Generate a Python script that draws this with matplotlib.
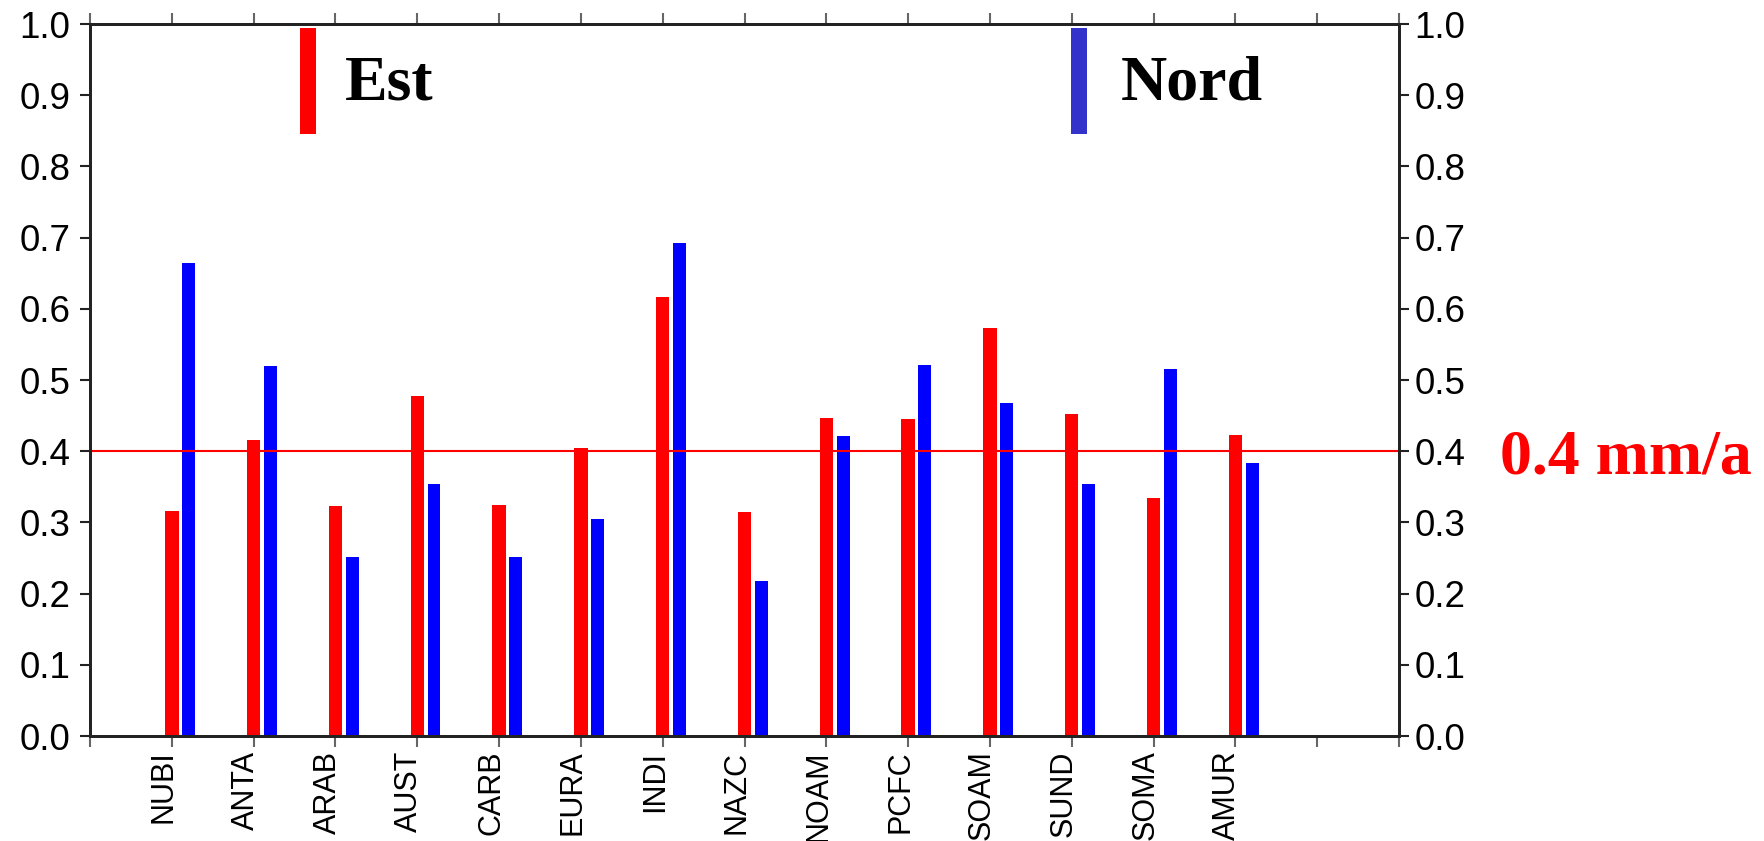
import matplotlib
matplotlib.use("Agg")
import matplotlib.pyplot as plt
from matplotlib.patches import Rectangle
import numpy as np

# Valeurs (mm/a)
plates = ["NUBI", "ANTA", "ARAB", "AUST", "CARB", "EURA", "INDI",
          "NAZC", "NOAM", "PCFC", "SOAM", "SUND", "SOMA", "AMUR"]
est = [0.316, 0.416, 0.323, 0.478, 0.325, 0.404, 0.616,
       0.315, 0.447, 0.445, 0.573, 0.452, 0.334, 0.423]
nord = [0.665, 0.519, 0.252, 0.354, 0.252, 0.305, 0.692,
        0.218, 0.421, 0.521, 0.468, 0.354, 0.516, 0.384]
seuil = 0.4
yticks = np.round(np.arange(0, 1.01, 0.1), 1)

plt.rcParams["font.family"] = ["Liberation Sans", "DejaVu Sans"]
LINE = "#222222"

fig = plt.figure(figsize=(17.65, 8.41), dpi=100)
ax = fig.add_axes([90 / 1765, 105 / 841, 1309 / 1765, 712 / 841])

x = np.arange(1, len(plates) + 1)
ax.bar(x, est, width=0.165, color="#ff0000", linewidth=0)
ax.bar(x + 0.205, nord, width=0.157, color="#0000ff", linewidth=0)
ax.axhline(seuil, color="#ff0000", linewidth=1.5)

ax.set_xlim(0, 16)
ax.set_ylim(0, 1)
ax.set_xticks(np.arange(0, 17))
ax.set_xticklabels([""] + plates + ["", ""], rotation=90,
                   rotation_mode="anchor", ha="right", va="baseline",
                   fontsize=22)
ax.set_yticks(yticks)
ax.set_yticklabels([f"{v:.1f}" for v in yticks], fontsize=26.5)
ax.tick_params(axis="x", direction="out", length=8, width=1.5, color="#666666",
               pad=2.5, top=True)
ax.tick_params(axis="y", direction="out", length=7, width=1.5, color=LINE, pad=7)
for sp in ax.spines.values():
    sp.set_color(LINE)
    sp.set_linewidth(2)

ax2 = ax.twinx()
ax2.set_ylim(0, 1)
ax2.set_yticks(yticks)
ax2.set_yticklabels([f"{v:.1f}" for v in yticks], fontsize=26.5)
ax2.tick_params(axis="y", direction="out", length=7, width=1.5, color=LINE, pad=4)
for sp in ax2.spines.values():
    sp.set_color(LINE)
    sp.set_linewidth(2)

# Legende
ax.add_patch(Rectangle((0.1604, 0.8455), 0.0123, 0.149, transform=ax.transAxes,
                       color="#ff0000", linewidth=0, clip_on=False))
ax.add_patch(Rectangle((0.7494, 0.8455), 0.0120, 0.149, transform=ax.transAxes,
                       color="#3333cc", linewidth=0, clip_on=False))
serif = dict(family=["Liberation Serif", "DejaVu Serif"], weight="bold", fontsize=46)
ax.text(0.1945, 0.8933, "Est", transform=ax.transAxes, va="baseline", ha="left",
        color="black", **serif)
ax.text(0.7874, 0.8933, "Nord", transform=ax.transAxes, va="baseline", ha="left",
        color="black", **serif)
ax.text(1.0772, 0.369, "0.4 mm/a", transform=ax.transAxes, va="baseline", ha="left",
        color="#ff0000", clip_on=False, **serif)

fig.savefig("out.png", dpi=100, facecolor="white")
